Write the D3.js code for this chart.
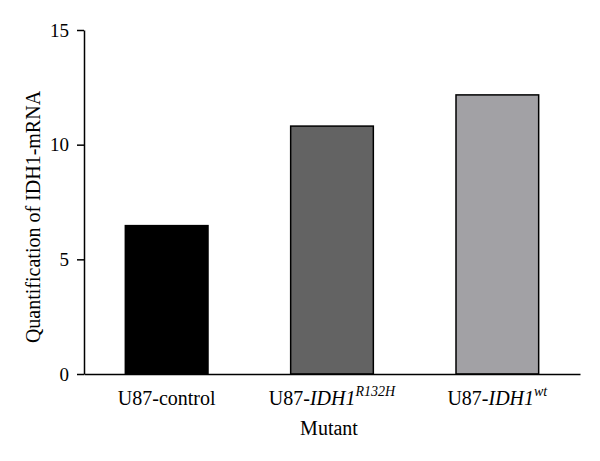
<!DOCTYPE html>
<html>
<head>
<meta charset="utf-8">
<script src="https://cdn.jsdelivr.net/npm/d3@7"></script>
<style>
    body { margin: 0; background: #fff; }
    svg text { font-family: "Liberation Serif", "DejaVu Serif", serif; fill: #000; }
    .axis path, .axis line { stroke: #000; stroke-width: 1.5; }
</style>
</head>
<body>
<div id="chart"></div>
<script>
// data
const categories = ["U87-control", "U87-IDH1 R132H", "U87-IDH1 wt"];
const values = [6.47, 10.81, 12.17];
const colors = ["#000000", "#636363", "#a2a1a5"];
const yTicks = [0, 5, 10, 15];

const width = 600, height = 461;
const margin = { top: 30, right: 20, bottom: 87, left: 84 };

const svg = d3.select("#chart").append("svg")
    .attr("width", width)
    .attr("height", height);

const x = d3.scaleBand()
    .domain(categories)
    .range([margin.left, width - margin.right])
    .paddingInner(0.5)
    .paddingOuter(0.25);

const y = d3.scaleLinear()
    .domain([0, 15])
    .range([height - margin.bottom, margin.top]);

// bars
svg.selectAll("rect.bar")
    .data(values)
    .enter().append("rect")
    .attr("class", "bar")
    .attr("x", (d, i) => x(categories[i]))
    .attr("y", d => y(d))
    .attr("width", x.bandwidth())
    .attr("height", d => y(0) - y(d))
    .attr("fill", (d, i) => colors[i])
    .attr("stroke", "#000")
    .attr("stroke-width", 1.5);

// y axis
const gy = svg.append("g")
    .attr("class", "axis")
    .attr("transform", "translate(" + margin.left + ",0)")
    .call(d3.axisLeft(y).tickValues(yTicks).tickSize(7).tickPadding(8).tickSizeOuter(0));
gy.selectAll("text").style("font-size", "19px");

// x axis (line only, labels below)
svg.append("g")
    .attr("class", "axis")
    .attr("transform", "translate(0," + y(0) + ")")
    .call(d3.axisBottom(x).tickSize(0).tickSizeOuter(0).tickFormat(""));

// x labels with italic gene name + superscript
const labelY = y(0) + 31;
categories.forEach((c, i) => {
    const t = svg.append("text")
        .attr("x", x(c) + x.bandwidth() / 2)
        .attr("y", labelY)
        .attr("text-anchor", "middle")
        .style("font-size", "20px");
    const parts = c.split(" ");
    if (parts.length === 1) {
        t.text(c);
    } else {
        t.append("tspan").text("U87-");
        t.append("tspan").attr("font-style", "italic").text(parts[0].replace("U87-", ""));
        t.append("tspan").attr("font-style", "italic").attr("dy", -9).style("font-size", "14px").text(parts[1]);
    }
});

// axis titles
svg.append("text")
    .attr("x", x.range()[0] + (x.range()[1] - x.range()[0]) / 2 - 3)
    .attr("y", y(0) + 61)
    .attr("text-anchor", "middle")
    .style("font-size", "20px")
    .text("Mutant");

svg.append("text")
    .attr("transform", "translate(40," + ((y(0) + y(15)) / 2 + 15) + ") rotate(-90)")
    .attr("text-anchor", "middle")
    .style("font-size", "20px")
    .text("Quantification of IDH1-mRNA");
</script>
</body>
</html>
